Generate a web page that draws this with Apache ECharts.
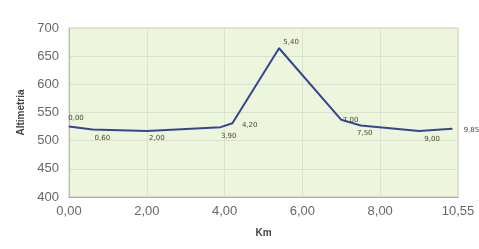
<!DOCTYPE html>
<html>
<head>
<meta charset="utf-8">
<script src="https://cdn.jsdelivr.net/npm/echarts@6/dist/echarts.min.js"></script>
<style>
  html, body { margin: 0; padding: 0; background: #fff; }
  #chart { width: 479px; height: 249px; }
</style>
</head>
<body>
<div id="chart"></div>
<script>
  // km along the route and altitude
  var kmData = [0.00, 0.60, 2.00, 3.90, 4.20, 5.40, 7.00, 7.50, 9.00, 9.85]
  var altData = [525, 520, 517, 524, 531, 664, 537, 527, 517, 521]
  var pointLabels = ['0,00', '0,60', '2,00', '3,90', '4,20', '5,40', '7,00', '7,50', '9,00', '9,85']
  var xTickLabels = ['0,00', '2,00', '4,00', '6,00', '8,00', '10,55']

  // where each point label sits (position + small offset)
  var labelPos = [
    ['top', [7, 1]],
    ['bottom', [10, 0]],
    ['bottom', [10, -2]],
    ['bottom', [8, 0]],
    ['right', [4, 2]],
    ['top', [12, 3]],
    ['right', [-4, 0]],
    ['bottom', [4, -1]],
    ['bottom', [13, -1]],
    ['right', [6, 1]]
  ]

  var chart = echarts.init(document.getElementById('chart'))

  var points = kmData.map(function (k, i) {
    return {
      value: [k, altData[i]],
      label: {
        show: true,
        formatter: pointLabels[i],
        position: labelPos[i][0],
        offset: labelPos[i][1]
      }
    }
  })

  chart.setOption({
    animation: false,
    grid: {
      left: 69,
      right: 21,
      top: 28,
      bottom: 52,
      show: true,
      backgroundColor: '#eef5dd',
      borderColor: '#c8cfc0',
      borderWidth: 1
    },
    xAxis: {
      type: 'value',
      min: 0,
      max: 10,
      interval: 2,
      name: 'Km',
      nameLocation: 'middle',
      nameGap: 31,
      nameTextStyle: { fontFamily: 'Liberation Sans', fontSize: 10, fontWeight: 'bold', color: '#444' },
      axisLine: { show: true, lineStyle: { color: '#a8a8a8' } },
      axisTick: { show: false },
      axisLabel: {
        fontFamily: 'Liberation Sans',
        fontSize: 13,
        color: '#666',
        margin: 8,
        formatter: function (v) { return xTickLabels[Math.round(v / 2)] }
      },
      splitLine: { show: true, lineStyle: { color: '#d9e2cc', width: 1 } }
    },
    yAxis: {
      type: 'value',
      min: 400,
      max: 700,
      interval: 50,
      name: 'Altimetria',
      nameLocation: 'middle',
      nameGap: 38,
      nameTextStyle: { fontFamily: 'Liberation Sans', fontSize: 10, fontWeight: 'bold', color: '#444' },
      axisLine: { show: true, lineStyle: { color: '#b8b8b8' } },
      axisTick: { show: false },
      axisLabel: { fontFamily: 'Liberation Sans', fontSize: 13, color: '#666', margin: 10 },
      splitLine: { show: true, lineStyle: { color: '#d9e2cc', width: 1 } }
    },
    series: [{
      type: 'line',
      data: points,
      showSymbol: true,
      symbol: 'circle',
      symbolSize: 1,
      itemStyle: { color: '#33468f' },
      lineStyle: { color: '#33468f', width: 2 },
      label: {
        fontFamily: 'DejaVu Sans',
        fontSize: 7,
        color: '#3d4d28'
      }
    }]
  })
</script>
</body>
</html>
